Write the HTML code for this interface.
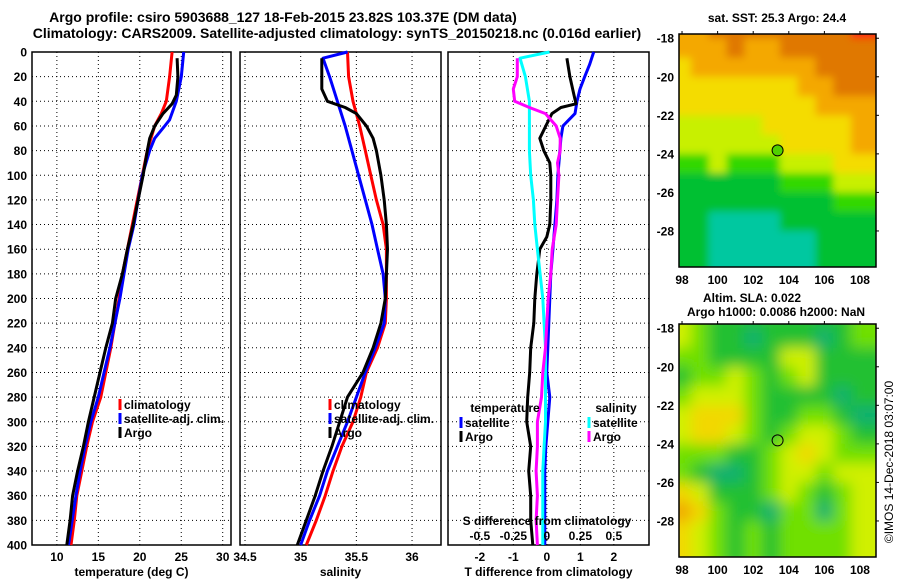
<!DOCTYPE html>
<html><head><meta charset="utf-8"><style>
html,body{margin:0;padding:0;background:#fff;}
svg{display:block;font-family:"Liberation Sans",sans-serif;font-weight:bold;}
</style></head><body>
<svg id="fig" width="900" height="580" viewBox="0 0 900 580" xmlns="http://www.w3.org/2000/svg">
<defs>
<clipPath id="clipSst"><rect x="679" y="34" width="197" height="233"/></clipPath>
<clipPath id="clipSla"><rect x="679" y="324" width="197" height="233"/></clipPath>
<filter id="blur" x="-10%" y="-10%" width="120%" height="120%"><feGaussianBlur stdDeviation="7"/></filter>
<filter id="blurS" x="-10%" y="-10%" width="120%" height="120%"><feGaussianBlur stdDeviation="4"/></filter>
</defs>
<text x="283" y="22" font-size="14" text-anchor="middle">Argo profile: csiro 5903688_127 18-Feb-2015 23.82S 103.37E (DM data)</text>
<text x="337" y="38" font-size="14" text-anchor="middle">Climatology: CARS2009. Satellite-adjusted climatology: synTS_20150218.nc (0.016d earlier)</text>
<g id="plots"></g>
<text x="777" y="22" font-size="12" text-anchor="middle">sat. SST: 25.3 Argo: 24.4</text>
<text x="752" y="302" font-size="12" text-anchor="middle">Altim. SLA: 0.022</text>
<text x="776" y="316" font-size="12" text-anchor="middle">Argo h1000: 0.0086 h2000: NaN</text>
<text transform="translate(893,462) rotate(-90)" font-size="12" font-weight="normal" text-anchor="middle">©IMOS 14-Dec-2018 03:07:00</text>
</svg>
<script>
// ---------- data ----------
const depthTicks = [0,20,40,60,80,100,120,140,160,180,200,220,240,260,280,300,320,340,360,380,400];
const tempTicks = [10,15,20,25,30];
const salTicks = [34.5,35,35.5,36];
const tdiffTicks = [-2,-1,0,1,2];
const sdiffTicks = [-0.5,-0.25,0,0.25,0.5];
const sdiffTickLabels = ["-0.5","-0.25","0","0.25","0.5"];

const tClimDepth = [0,20,40,50,60,80,100,120,140,160,180,200,220,240,260,280,300,320,340,360,380,400];
const tClim = [23.9,23.6,23.2,22.6,21.8,20.9,20.3,19.7,19.1,18.5,17.9,17.5,17.0,16.5,15.9,15.3,14.3,13.6,13.0,12.4,12.1,11.7];
const tSatDepth = [0,20,40,55,60,70,80,100,120,140,160,180,200,240,260,280,300,320,340,360,400];
const tSat = [25.3,25.0,24.4,23.6,23.0,21.8,21.2,20.3,19.8,19.3,18.6,18.1,17.6,16.4,15.7,15.0,14.1,13.4,12.8,12.3,11.4];
const tArgoDepth = [5,20,35,42,50,60,70,80,100,120,140,160,180,200,220,240,260,280,300,320,340,360,380,400];
const tArgo = [24.5,24.6,24.4,23.9,22.8,21.8,21.2,20.9,20.4,19.8,19.2,18.5,17.9,17.1,16.7,15.9,15.2,14.5,13.8,13.2,12.5,11.9,11.6,11.2];

const sClimDepth = [0,20,40,60,80,100,120,140,160,180,200,220,240,260,280,300,320,340,360,380,400];
const sClim = [35.42,35.43,35.47,35.53,35.58,35.63,35.68,35.74,35.77,35.77,35.77,35.76,35.69,35.59,35.54,35.47,35.37,35.29,35.22,35.14,35.05];
const sSatDepth = [0,5,20,40,60,80,100,120,140,160,180,200,220,240,260,280,300,320,340,360,380,400];
const sSat = [35.42,35.20,35.26,35.33,35.40,35.46,35.52,35.58,35.64,35.69,35.74,35.76,35.75,35.67,35.58,35.50,35.42,35.33,35.24,35.17,35.08,35.00];
const sArgoDepth = [5,30,40,45,50,60,70,80,100,120,140,160,180,200,220,240,260,280,300,320,340,360,380,400];
const sArgo = [35.19,35.19,35.24,35.40,35.50,35.59,35.65,35.68,35.72,35.75,35.77,35.78,35.77,35.76,35.72,35.65,35.56,35.42,35.35,35.28,35.20,35.13,35.05,34.97];

const dTSatDepth = [0,10,20,30,40,50,55,60,70,80,100,120,140,160,180,200,220,240,260,280,300,320,340,360,380,400];
const dTSat = [1.40,1.28,1.13,0.99,0.90,0.84,0.66,0.48,0.42,0.39,0.33,0.30,0.24,0.18,0.12,0.09,0.06,0.03,0,0.09,0.03,-0.03,-0.06,-0.06,-0.06,-0.06];
const dTArgoDepth = [5,20,35,42,45,50,60,70,80,90,100,120,140,150,160,180,200,220,240,260,280,300,320,340,360,380,400];
const dTArgo = [0.60,0.69,0.81,0.87,0.42,0.15,-0.03,-0.21,-0.09,0.09,0.12,0.12,0.09,0,-0.21,-0.30,-0.36,-0.39,-0.48,-0.51,-0.57,-0.60,-0.48,-0.54,-0.48,-0.48,-0.42];
const dSSatDepth = [0,5,20,40,60,80,100,120,140,160,180,200,220,240,260,280,300,320,340,360,380,400];
const dSSat = [0.02,-0.20,-0.16,-0.13,-0.13,-0.13,-0.12,-0.10,-0.09,-0.07,-0.05,-0.03,-0.02,-0.01,-0.01,-0.01,-0.01,-0.02,-0.03,-0.03,-0.03,-0.03];
const dSArgoDepth = [5,20,30,40,45,50,60,70,80,90,100,120,140,160,180,200,220,240,260,280,300,320,340,360,380,400];
const dSArgo = [-0.22,-0.22,-0.25,-0.24,-0.13,-0.01,0.07,0.10,0.10,0.08,0.09,0.08,0.07,0.04,0.03,0.01,0,-0.01,-0.03,-0.04,-0.07,-0.07,-0.08,-0.07,-0.08,-0.07];

const lonTicks = [98,100,102,104,106,108];
const latTicks = [-18,-20,-22,-24,-26,-28];
const argoLon = 103.37, argoLat = -23.82;
const sstGrid = [
[5,5,6,6,6,6,6,6,6,6,7],
[5,5,5,6,5,5,6,6,6,6,6],
[4,5,5,5,5,5,5,5,6,6,6],
[4,4,4,4,4,4,4,5,5,6,6],
[4,4,4,4,4,4,4,4,5,5,5],
[3,3,3,3,3,4,4,4,4,4,5],
[3,3,3,3,3,3,4,4,4,4,5],
[2,2,3,2,2,2,3,3,3,4,4],
[1,1,1,1,1,1,2,2,2,3,3],
[1,1,1,1,1,1,1,1,1,2,2],
[1,1,0,0,0,0,1,1,1,1,1],
[1,1,0,0,0,0,0,0,1,1,1]];
const slaGrid = [
[3,2,1,1,1,1,1,1,1,1,2],
[3,2,1,1,0,1,1,1,0,1,2],
[2,2,1,1,1,1,3,3,1,1,1],
[1,2,2,3,2,1,2,3,1,1,1],
[2,3,3,3,2,1,1,1,1,0,1],
[3,4,4,4,2,1,1,2,2,1,0],
[3,4,4,3,2,1,2,3,3,2,1],
[2,2,2,1,1,2,3,4,3,2,2],
[2,1,0,0,1,2,3,3,2,3,3],
[4,3,1,1,1,2,3,2,1,2,3],
[5,4,2,1,1,0,2,2,0,2,3],
[4,3,2,1,2,1,2,2,2,2,3]];
const sstColors = ["#00c8a0","#00c030","#30d800","#c8f000","#f4dc00","#f4a800","#e07800","#ff1010"];
const slaColors = ["#10b070","#20c030","#70e000","#d0f000","#f2d800","#f0a800"];

// ---------- drawing ----------
const NS="http://www.w3.org/2000/svg";
const root=document.getElementById('plots');
function mk(tag,attrs,parent){const e=document.createElementNS(NS,tag);for(const k in attrs)e.setAttribute(k,attrs[k]);(parent||root).appendChild(e);return e;}
const Y0=52,Y1=545;
const yD=d=>Y0+(d/400)*(Y1-Y0);

function panel(name,x0,x1,dmin,dmax,xticks,xlabels,xtitle,showY){
  const g=mk('g',{});
  
  
  const sx=v=>x0+(v-dmin)/(dmax-dmin)*(x1-x0);
  xticks.forEach((t,i)=>{
    const l=mk('line',{x1:sx(t),x2:sx(t),y1:Y0,y2:Y1,stroke:'#000','stroke-width':1,'stroke-dasharray':'1,3'},g);
    
    
    const tx=mk('text',{x:sx(t),y:561,'font-size':12,'text-anchor':'middle'},g);
    
    
    tx.textContent=xlabels[i];
  });
  depthTicks.forEach(d=>{
    const l=mk('line',{x1:x0,x2:x1,y1:yD(d),y2:yD(d),stroke:'#000','stroke-width':1,'stroke-dasharray':'1,3'},g);
    
    
    if(showY){
      const tx=mk('text',{x:27,y:yD(d)+4.5,'font-size':12,'text-anchor':'end'},g);
      
      
      tx.textContent=d;
    }
  });
  const r=mk('rect',{x:x0,y:Y0,width:x1-x0,height:Y1-Y0,fill:'none',stroke:'#000','stroke-width':1.5},g);
  
  
  const tt=mk('text',{x:(x0+x1)/2,y:576,'font-size':12,'text-anchor':'middle'},g);
  
  
  tt.textContent=xtitle;
  return {g,sx};
}
function series(p,name,depths,vals,color,scale){
  const pts=depths.map((d,i)=>p.sx(vals[i]*(scale||1)).toFixed(1)+','+yD(d).toFixed(1)).join(' ');
  const pl=mk('polyline',{points:pts,fill:'none',stroke:color,'stroke-width':3,'stroke-linejoin':'round'},p.g);
  
  
}
function legend(p,x,y,color,label,name){
  const r=mk('rect',{x:x-1.5,y:y-9,width:3,height:11,fill:color},p.g);
  
  
  const t=mk('text',{x:x+4,y:y+1,'font-size':12},p.g);
  
  
  t.textContent=label;
}

const p1=panel('temperature-panel',32,231,7,31,tempTicks,tempTicks.map(String),'temperature (deg C)',true);
series(p1,'temp-climatology-line',tClimDepth,tClim,'#f00');
series(p1,'temp-satellite-line',tSatDepth,tSat,'#00f');
series(p1,'temp-argo-line',tArgoDepth,tArgo,'#000');
legend(p1,120,408,'#f00','climatology','legend-climatology');
legend(p1,120,422,'#00f','satellite-adj. clim.','legend-satellite');
legend(p1,120,436,'#000','Argo','legend-argo');

const p2=panel('salinity-panel',240,441,34.455,36.26,salTicks,salTicks.map(String),'salinity',false);
series(p2,'sal-climatology-line',sClimDepth,sClim,'#f00');
series(p2,'sal-satellite-line',sSatDepth,sSat,'#00f');
series(p2,'sal-argo-line',sArgoDepth,sArgo,'#000');
legend(p2,330,408,'#f00','climatology','legend-climatology');
legend(p2,330,422,'#00f','satellite-adj. clim.','legend-satellite');
legend(p2,330,436,'#000','Argo','legend-argo');

const p3=panel('difference-panel',448,649,-2.95,3.05,tdiffTicks,tdiffTicks.map(String),'T difference from climatology',false);
series(p3,'tdiff-satellite-line',dTSatDepth,dTSat,'#00f');
series(p3,'tdiff-argo-line',dTArgoDepth,dTArgo,'#000');
series(p3,'sdiff-satellite-line',dSSatDepth,dSSat,'#0ff',4);
series(p3,'sdiff-argo-line',dSArgoDepth,dSArgo,'#f0f',4);
{
  const t=mk('text',{x:505,y:412,'font-size':12,'text-anchor':'middle'},p3.g);
  
  
  t.textContent='temperature';
  const t2=mk('text',{x:616,y:412,'font-size':12,'text-anchor':'middle'},p3.g);
  
  
  t2.textContent='salinity';
}
legend(p3,461,426,'#00f','satellite','legend-t-satellite');
legend(p3,461,440,'#000','Argo','legend-t-argo');
legend(p3,589,426,'#0ff','satellite','legend-s-satellite');
legend(p3,589,440,'#f0f','Argo','legend-s-argo');
{
  const t=mk('text',{x:547,y:525,'font-size':12,'text-anchor':'middle'},p3.g);
  
  
  t.textContent='S difference from climatology';
  sdiffTicks.forEach((s,i)=>{
    const l=mk('text',{x:p3.sx(s*4),y:540,'font-size':12,'text-anchor':'middle'},p3.g);
    
    
    l.textContent=sdiffTickLabels[i];
  });
}

// maps
function map(name,top,bottom,grid,colors,clipId,filterId){
  const g=mk('g',{});
  
  
  const L=679,R=876,lon0=97.83,lon1=108.9,lat0=-17.78,lat1=-29.87;
  const sx=v=>L+(v-lon0)/(lon1-lon0)*(R-L);
  const sy=v=>top+(v-lat0)/(lat1-lat0)*(bottom-top);
  const cg=mk('g',{'clip-path':'url(#'+clipId+')'},g);
  const inner=mk('g',{filter:'url(#'+filterId+')'},cg);
  grid.forEach((row,ri)=>row.forEach((v,ci)=>{
    const la=-18+0.5-ri, lo=98+ci;
    const x0=ci===0?L-12:sx(lo-0.5), x1=ci===row.length-1?R+12:sx(lo+0.5);
    const y0=ri===0?top-12:sy(la+0.5), y1=ri===grid.length-1?bottom+12:sy(la-0.5);
    const c=mk('rect',{x:x0,y:y0,width:x1-x0+0.5,height:y1-y0+0.5,fill:colors[v]},inner);
    
    
  }));
  const fr=mk('rect',{x:L,y:top,width:R-L,height:bottom-top,fill:'none',stroke:'#000','stroke-width':1.5},g);
  
  
  lonTicks.forEach(t=>{
    const l=mk('text',{x:sx(t),y:bottom+17,'font-size':12,'text-anchor':'middle'},g);
    
    
    l.textContent=t;
    const tk=mk('line',{x1:sx(t),x2:sx(t),y1:top-3,y2:top,stroke:'#000'},g);
    
    
  });
  latTicks.forEach(t=>{
    const l=mk('text',{x:674,y:sy(t)+4.5,'font-size':12,'text-anchor':'end'},g);
    
    
    l.textContent=t;
    const tk=mk('line',{x1:R,x2:R+3,y1:sy(t),y2:sy(t),stroke:'#000'},g);
    
    
  });
  const c=mk('circle',{cx:sx(argoLon),cy:sy(argoLat),r:5.5,fill:clipId==='clipSst'?'#50d000':'none',stroke:'#000','stroke-width':1},g);
  
  
}
map('sst-map',34,267,sstGrid,sstColors,'clipSst','blurS');
map('sla-map',324,557,slaGrid,slaColors,'clipSla','blur');
</script>
</body></html>
